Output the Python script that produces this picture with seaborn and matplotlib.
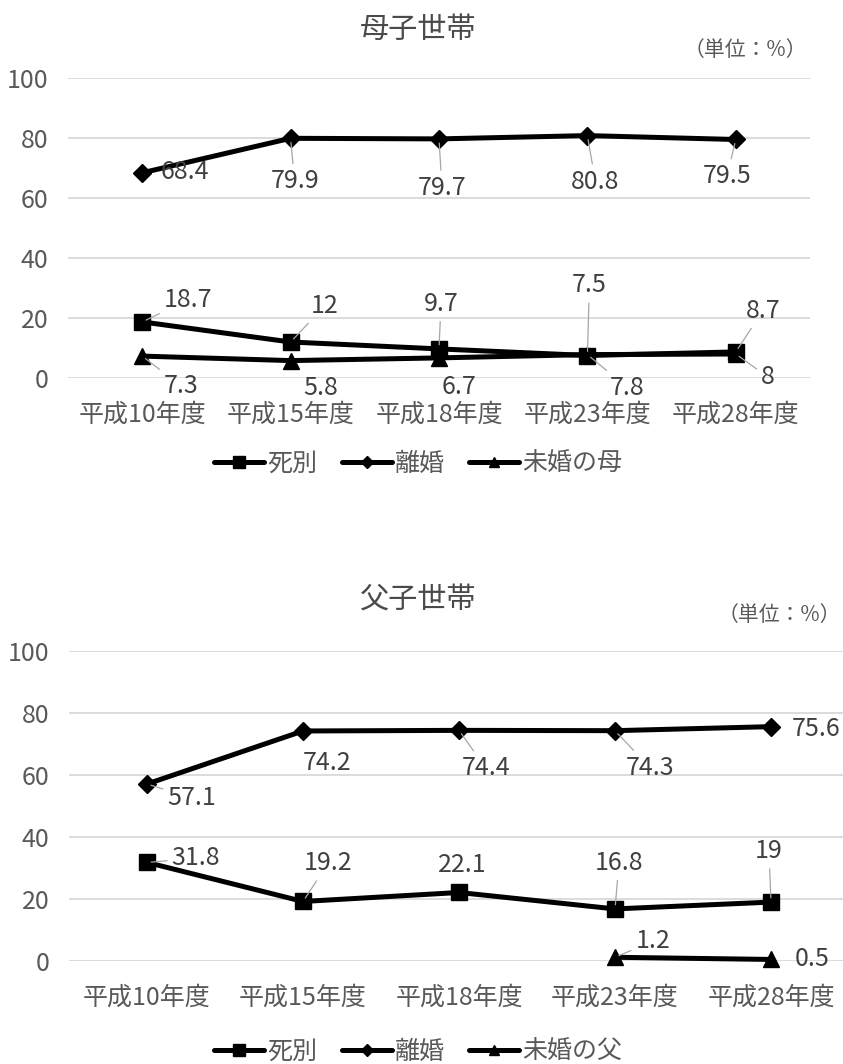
import numpy as np
import pandas as pd
import matplotlib
matplotlib.use("Agg")
import matplotlib.pyplot as plt
import seaborn as sns
from matplotlib.lines import Line2D

# ---- data -------------------------------------------------------------
categories = ["平成10年度", "平成15年度", "平成18年度", "平成23年度", "平成28年度"]

mother_series = ["死別", "離婚", "未婚の母"]
mother_bereaved = [18.7, 12, 9.7, 7.5, 8.7]
mother_divorce = [68.4, 79.9, 79.7, 80.8, 79.5]
mother_unmarried = [7.3, 5.8, 6.7, 7.8, 8]

father_series = ["死別", "離婚", "未婚の父"]
father_bereaved = [31.8, 19.2, 22.1, 16.8, 19]
father_divorce = [57.1, 74.2, 74.4, 74.3, 75.6]
father_unmarried = [np.nan, np.nan, np.nan, 1.2, 0.5]

y_ticks = [0, 20, 40, 60, 80, 100]

# ---- label placement (pixel offsets from the point, leader line flag) --
mother_label_layout = {
    "死別": [(46, 22, True), (34, 36, True), (2, 45, True), (2, 70, True), (27, 41, True)],
    "離婚": [(43, 1, False), (4, -43, True), (3, -49, True), (8, -46, True), (-9, -37, True)],
    "未婚の母": [(39, -30, True), (30, -27, False), (20, -29, False), (40, -33, True), (32, -23, True)],
}
father_label_layout = {
    "死別": [(49, 4, True), (25, 38, True), (3, 27, False), (4, 46, True), (-2, 51, True)],
    "離婚": [(45, -14, True), (24, -32, False), (27, -38, True), (35, -37, True), (45, -2, False)],
    "未婚の父": [None, None, None, (38, 16, True), (41, 0, False)],
}

W, H = 843, 1064
sns.set_theme(style="white")
plt.rcParams["font.family"] = ["Noto Sans CJK JP", "DejaVu Sans"]

TEXT = "#595959"
LABEL = "#404040"
GRID = "#d9d9d9"
MARKERS = ["s", "D", "^"]
MSIZES = {"s": 12, "D": 9, "^": 11}


def draw_panel(fig, rect, names, values, layout, title, title_y, unit_xy, legend_y):
    ax = fig.add_axes(rect)
    rows = []
    for name, vals in zip(names, values):
        for i, v in enumerate(vals):
            if not np.isnan(v):
                rows.append({"pos": i, "value": v, "series": name})
    df = pd.DataFrame(rows)

    sns.lineplot(
        data=df, x="pos", y="value", hue="series", style="series",
        hue_order=names, style_order=names, palette=["black"] * 3,
        markers=dict(zip(names, MARKERS)), dashes=False,
        linewidth=3.6, markeredgecolor="black", markeredgewidth=1,
        estimator=None, legend=False, ax=ax,
    )
    for line in ax.lines:
        line.set_markersize(MSIZES.get(line.get_marker(), 11))
        line.set_clip_on(False)
        line.set_solid_joinstyle("miter")

    ax.set_xlim(-0.5, len(categories) - 0.5)
    ax.set_ylim(0, 100)
    ax.set_xticks(range(len(categories)))
    ax.set_xticklabels(categories)
    ax.set_yticks(y_ticks)
    ax.set_xlabel("")
    ax.set_ylabel("")
    ax.tick_params(axis="x", length=0, pad=17, labelsize=18, labelcolor=TEXT)
    ax.tick_params(axis="y", length=0, pad=14, labelsize=18, labelcolor=TEXT)
    ax.grid(axis="y", color=GRID, linewidth=1.3)
    ax.grid(axis="x", visible=False)
    ax.set_axisbelow(True)
    for s in ax.spines.values():
        s.set_visible(False)

    # value labels
    for name, vals in zip(names, values):
        for i, v in enumerate(vals):
            if np.isnan(v):
                continue
            dx, dy, leader = layout[name][i]
            ax.annotate(
                f"{v:g}", xy=(i, v), xytext=(dx, dy), textcoords="offset pixels",
                ha="center", va="center", fontsize=18, color=LABEL,
                annotation_clip=False,
                arrowprops=dict(arrowstyle="-", color="#a6a6a6", lw=0.9,
                                shrinkA=1, shrinkB=3) if leader else None,
            )

    fig.text(0.496, title_y, title, ha="center", va="center",
             fontsize=21, color="#4a4a4a", fontweight="normal")
    fig.text(unit_xy[0], unit_xy[1], "（単位：%）", ha="center", va="center",
             fontsize=15, color=TEXT)

    handles = [
        Line2D([], [], color="black", linewidth=3.6, marker=m,
               markersize=MSIZES[m] * 0.7, markeredgecolor="black")
        for m in MARKERS
    ]
    fig.legend(handles, names, loc="center", bbox_to_anchor=(0.496, legend_y),
               ncol=3, frameon=False, fontsize=18, handlelength=2.0,
               handletextpad=0.1, columnspacing=1.0, labelcolor=TEXT)
    return ax


fig = plt.figure(figsize=(W / 100, H / 100), dpi=100)
fig.patch.set_facecolor("white")

draw_panel(
    fig, [68 / W, 1 - 378 / H, 742 / W, 300 / H], mother_series,
    [mother_bereaved, mother_divorce, mother_unmarried], mother_label_layout,
    "母子世帯", 1 - 30 / H, (745 / W, 1 - 50 / H), 1 - 464 / H,
)
draw_panel(
    fig, [69 / W, 1 - 961 / H, 780 / W, 310 / H], father_series,
    [father_bereaved, father_divorce, father_unmarried], father_label_layout,
    "父子世帯", 1 - 601 / H, (779 / W, 1 - 615 / H), 1 - 1052 / H,
)

fig.savefig("out.png", dpi=100, facecolor="white")
